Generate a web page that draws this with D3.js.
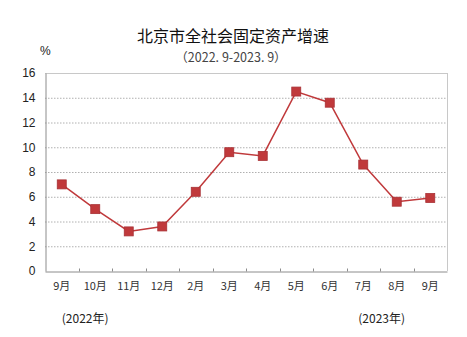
<!DOCTYPE html>
<html>
<head>
<meta charset="utf-8">
<script src="https://cdn.jsdelivr.net/npm/d3@7/dist/d3.min.js"></script>
<style>
  html, body { margin: 0; padding: 0; background: #fff; }
  svg { display: block; }
</style>
</head>
<body>
<svg id="chart" width="467" height="337"></svg>
<script>
// 北京市全社会固定资产投资增速（%）
const months = ["9月", "10月", "11月", "12月", "2月", "3月", "4月", "5月", "6月", "7月", "8月", "9月"];
const growth = [7.0, 5.0, 3.2, 3.6, 6.4, 9.6, 9.3, 14.5, 13.6, 8.6, 5.6, 5.9];
const yTicks = [0, 2, 4, 6, 8, 10, 12, 14, 16];
const yearLabels = ["(2022年)", "(2023年)"];

const svg = d3.select("#chart");
const W = 467, H = 337;
const margin = { left: 45, right: 20, top: 73, bottom: 66 };
const plotW = W - margin.left - margin.right;
const plotH = H - margin.top - margin.bottom;

const idx = d3.range(months.length);
const x = d3.scaleBand().domain(idx).range([margin.left, margin.left + plotW]);
const y = d3.scaleLinear().domain([0, 16]).range([margin.top + plotH, margin.top]);
const cx = i => x(i) + x.bandwidth() / 2;

const cjk = "'Noto Sans CJK SC', 'Noto Sans', sans-serif";
const latin = "'Liberation Sans', Arial, sans-serif";

// Title and subtitle
svg.append("text").attr("x", 233).attr("y", 42).attr("text-anchor", "middle")
  .style("font-family", cjk).style("font-size", "16px").attr("fill", "#111")
  .text("北京市全社会固定资产增速");
svg.append("text").attr("x", 231).attr("y", 62).attr("text-anchor", "middle")
  .style("font-family", cjk).style("font-size", "12.5px").attr("fill", "#444")
  .text("（2022. 9-2023. 9）");

// Unit
svg.append("text").attr("x", 40).attr("y", 55)
  .style("font-family", latin).style("font-size", "12px").attr("fill", "#222")
  .text("%");

// Horizontal gridlines
svg.append("g").selectAll("line").data(yTicks.filter(d => d > 0)).join("line")
  .attr("x1", margin.left).attr("x2", margin.left + plotW)
  .attr("y1", d => y(d) + 0.5).attr("y2", d => y(d) + 0.5)
  .attr("stroke", d => d === 16 ? "#c8c8c8" : "#b0b0b0")
  .attr("stroke-dasharray", d => d === 16 ? null : "1.5,1.5");

// Right border
svg.append("line")
  .attr("x1", margin.left + plotW + 0.5).attr("x2", margin.left + plotW + 0.5)
  .attr("y1", y(16)).attr("y2", y(0))
  .attr("stroke", "#c8c8c8");

// Y axis
const yAxis = d3.axisLeft(y).tickValues(yTicks).tickSize(0).tickPadding(10);
const gy = svg.append("g").attr("transform", `translate(${margin.left + 0.5},0)`).call(yAxis);
gy.select(".domain").attr("stroke", "#8c8c8c");
gy.selectAll("text").style("font-family", latin).style("font-size", "12px").attr("fill", "#222");

// X axis with tick marks on category boundaries
const xAxis = d3.axisBottom(x).tickFormat(i => months[i]).tickSize(0).tickPadding(11);
const gx = svg.append("g").attr("transform", `translate(0,${y(0) + 0.5})`).call(xAxis);
gx.select(".domain").attr("stroke", "#8c8c8c");
gx.selectAll("text").style("font-family", cjk).style("font-size", "11px").attr("fill", "#333");
gx.selectAll(".bound").data(idx.slice(1)).join("line").attr("class", "bound")
  .attr("x1", i => Math.round(x(i)) + 0.5).attr("x2", i => Math.round(x(i)) + 0.5)
  .attr("y1", 0).attr("y2", -3).attr("stroke", "#8c8c8c");

// Year labels under the start and end of the period
svg.append("text")
  .attr("x", cx(0)).attr("y", 323)
  .style("font-family", cjk).style("font-size", "12px").attr("fill", "#222")
  .text(yearLabels[0]);
svg.append("text")
  .attr("x", cx(9) - 5).attr("y", 323)
  .style("font-family", cjk).style("font-size", "12px").attr("fill", "#222")
  .text(yearLabels[1]);

// Line
svg.append("path").datum(idx)
  .attr("fill", "none").attr("stroke", "#c0393b").attr("stroke-width", 1.5)
  .attr("d", d3.line().x(cx).y(i => y(growth[i])));

// Square markers
const s = 9;
svg.append("g").selectAll("rect").data(idx).join("rect")
  .attr("x", i => cx(i) - s / 2).attr("y", i => y(growth[i]) - s / 2)
  .attr("width", s).attr("height", s)
  .attr("fill", "#c0393b").attr("stroke", "#a83236").attr("stroke-width", 0.8);
</script>
</body>
</html>
